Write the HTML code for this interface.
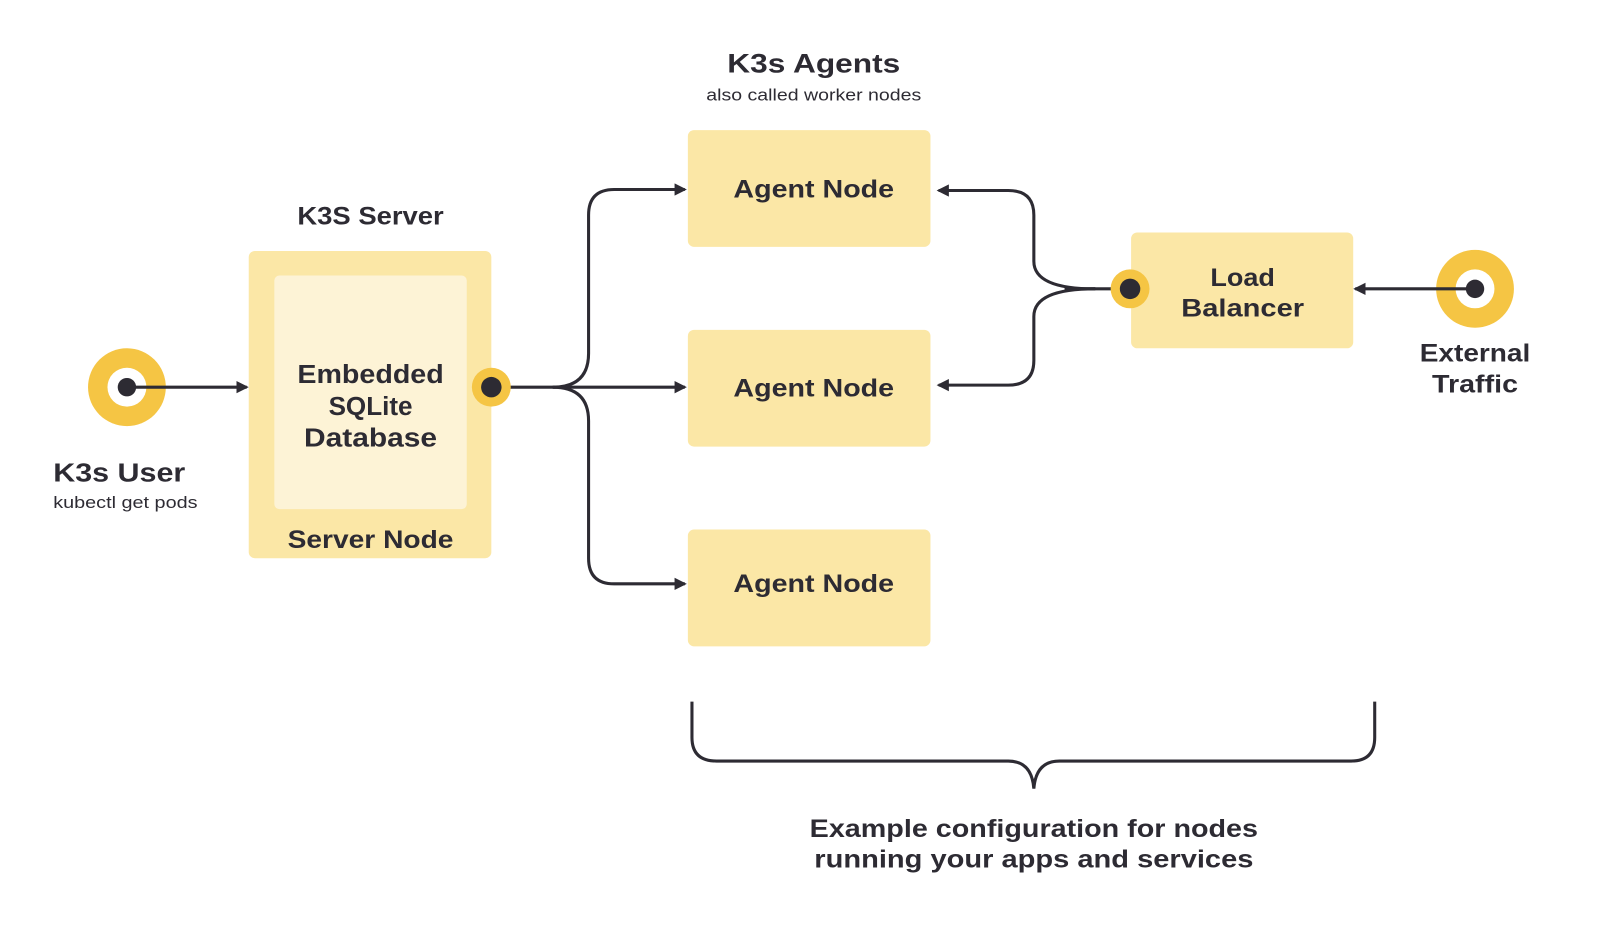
<!DOCTYPE html>
<html><head><meta charset="utf-8"><style>
html,body{margin:0;padding:0;background:#fff;}
svg{display:block;}
text{font-family:"Liberation Sans",sans-serif;fill:#2d2b33;text-anchor:middle;}
.b{font-weight:bold;}
</style></head><body>
<svg width="1604" height="928" viewBox="0 0 1567 906" preserveAspectRatio="none" xmlns="http://www.w3.org/2000/svg">
<defs>
<marker id="ar" markerWidth="12" markerHeight="12" refX="10" refY="6" orient="auto" markerUnits="userSpaceOnUse">
<path d="M0,0 L12,6 L0,12 Z" fill="#2d2b33"/>
</marker>
</defs>
<g fill="none" stroke="#2d2b33" stroke-width="3">
<line x1="480" y1="378" x2="669" y2="378" marker-end="url(#ar)"/>
<path d="M540,378 Q575,378 575,345 L575,210 Q575,185 600,185 L669,185" marker-end="url(#ar)"/>
<path d="M540,378 Q575,378 575,411 L575,545 Q575,570 600,570 L669,570" marker-end="url(#ar)"/>
<line x1="1104" y1="282" x2="1040" y2="282"/>
<path d="M1070,282 Q1010,282 1010,255 L1010,210 Q1010,186 985,186 L917,186" marker-end="url(#ar)"/>
<path d="M1070,282 Q1010,282 1010,309 L1010,352 Q1010,376 985,376 L917,376" marker-end="url(#ar)"/>
<path d="M676,685 L676,720 Q676,743 700,743 L985,743 Q1008,743 1010,770 Q1012,743 1035,743 L1320,743 Q1343,743 1343,720 L1343,685"/>
</g>
<rect x="243" y="245" width="237" height="300" rx="6" fill="#fbe7a6"/>
<rect x="268" y="269" width="188" height="228" rx="5" fill="#fdf3d6"/>
<rect x="672" y="127" width="237" height="114" rx="6" fill="#fbe7a6"/>
<rect x="672" y="322" width="237" height="114" rx="6" fill="#fbe7a6"/>
<rect x="672" y="517" width="237" height="114" rx="6" fill="#fbe7a6"/>
<rect x="1105" y="227" width="217" height="113" rx="6" fill="#fbe7a6"/>
<circle cx="124" cy="378" r="38" fill="#f5c544"/><circle cx="124" cy="378" r="19" fill="#fff"/>
<circle cx="1441" cy="282" r="38" fill="#f5c544"/><circle cx="1441" cy="282" r="19" fill="#fff"/>
<g fill="none" stroke="#2d2b33" stroke-width="3">
<line x1="124" y1="378" x2="241" y2="378" marker-end="url(#ar)"/>
<line x1="1441" y1="282" x2="1324" y2="282" marker-end="url(#ar)"/>
</g>
<circle cx="124" cy="378" r="9" fill="#2d2b33"/>
<circle cx="1441" cy="282" r="9" fill="#2d2b33"/>
<circle cx="480" cy="378" r="19" fill="#f5c544"/><circle cx="480" cy="378" r="10" fill="#2d2b33"/>
<circle cx="1104" cy="282" r="19" fill="#f5c544"/><circle cx="1104" cy="282" r="10" fill="#2d2b33"/>
<text class="b" x="795" y="71" font-size="26" textLength="169" lengthAdjust="spacingAndGlyphs">K3s Agents</text>
<text x="795" y="98" font-size="16" textLength="210" lengthAdjust="spacingAndGlyphs">also called worker nodes</text>
<text class="b" x="362" y="219" font-size="24" textLength="143" lengthAdjust="spacingAndGlyphs">K3S Server</text>
<text class="b" x="362" y="374" font-size="25" textLength="143" lengthAdjust="spacingAndGlyphs">Embedded</text>
<text class="b" x="362" y="405" font-size="25" textLength="82" lengthAdjust="spacingAndGlyphs">SQLite</text>
<text class="b" x="362" y="436" font-size="25" textLength="130" lengthAdjust="spacingAndGlyphs">Database</text>
<text class="b" x="362" y="535" font-size="24" textLength="162" lengthAdjust="spacingAndGlyphs">Server Node</text>
<text class="b" x="795" y="193" font-size="24" textLength="157" lengthAdjust="spacingAndGlyphs">Agent Node</text>
<text class="b" x="795" y="387" font-size="24" textLength="157" lengthAdjust="spacingAndGlyphs">Agent Node</text>
<text class="b" x="795" y="578" font-size="24" textLength="157" lengthAdjust="spacingAndGlyphs">Agent Node</text>
<text class="b" x="1214" y="279" font-size="24" textLength="63" lengthAdjust="spacingAndGlyphs">Load</text>
<text class="b" x="1214" y="309" font-size="24" textLength="120" lengthAdjust="spacingAndGlyphs">Balancer</text>
<text class="b" x="1441" y="353" font-size="24" textLength="108" lengthAdjust="spacingAndGlyphs">External</text>
<text class="b" x="1441" y="383" font-size="24" textLength="84" lengthAdjust="spacingAndGlyphs">Traffic</text>
<text class="b" x="52" y="470" font-size="25" style="text-anchor:start" textLength="129" lengthAdjust="spacingAndGlyphs">K3s User</text>
<text x="52" y="496" font-size="16" style="text-anchor:start" textLength="141" lengthAdjust="spacingAndGlyphs">kubectl get pods</text>
<text class="b" x="1010" y="817" font-size="24" textLength="438" lengthAdjust="spacingAndGlyphs">Example configuration for nodes</text>
<text class="b" x="1010" y="847" font-size="24" textLength="429" lengthAdjust="spacingAndGlyphs">running your apps and services</text>
</svg>
</body></html>
